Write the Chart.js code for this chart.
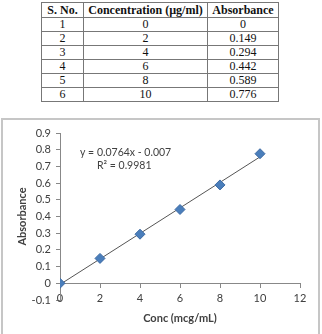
<!DOCTYPE html>
<html>
<head>
<meta charset="utf-8">
<script src="https://cdn.jsdelivr.net/npm/chart.js@4.4.1/dist/chart.umd.min.js"></script>
<style>
  body { margin: 0; background: #fff; width: 322px; height: 334px; overflow: hidden; position: relative; }
  table { position: absolute; left: 41px; top: 2px; border-collapse: collapse; table-layout: fixed;
          font-family: "Liberation Serif", "Times New Roman", serif; font-size: 12px; color: #111; }
  td, th { border: 1px solid #777; text-align: center; padding: 0; line-height: 13px; }
  th { height: 14px; font-weight: bold; }
  td { height: 13px; }
  #frame { position: absolute; left: 1px; top: 118px; width: 315px; height: 220px; border: 2px solid #c6c6c6; }
  #myChart { position: absolute; left: 0; top: 119px; }
</style>
</head>
<body>
<table id="tbl">
  <colgroup><col style="width:42px"><col style="width:124px"><col style="width:71px"></colgroup>
  <tr><th>S. No.</th><th>Concentration (µg/ml)</th><th>Absorbance</th></tr>
</table>
<div id="frame"></div>
<canvas id="myChart" width="322" height="215"></canvas>
<script>
const sNo = [1, 2, 3, 4, 5, 6];
const conc = [0, 2, 4, 6, 8, 10];
const absorbance = [0, 0.149, 0.294, 0.442, 0.589, 0.776];
const absLabels = ["0", "0.149", "0.294", "0.442", "0.589", "0.776"];
const slope = 0.0764;
const intercept = -0.007;
const trendX = [0, 10];

// table rows
const tbl = document.getElementById("tbl");
sNo.forEach((n, i) => {
  const tr = document.createElement("tr");
  tr.innerHTML = `<td>${n}</td><td>${conc[i]}</td><td>${absLabels[i]}</td>`;
  tbl.appendChild(tr);
});

const points = conc.map((x, i) => ({ x: x, y: absorbance[i] }));
const trend = trendX.map((x) => ({ x: x, y: slope * x + intercept }));

const eqText = {
  id: "eqText",
  afterDraw(chart) {
    const ctx = chart.ctx;
    const a = chart.chartArea;
    ctx.save();
    ctx.fillStyle = "#404040";
    ctx.font = "10.5px Lato";
    ctx.textBaseline = "middle";
    ctx.fillText("y = 0.0764x - 0.007", a.left + 20, a.top + 20);
    ctx.fillText("R² = 0.9981", a.left + 37, a.top + 33);
    ctx.restore();
  }
};

Chart.defaults.font.family = "Lato";
Chart.defaults.font.size = 11;
Chart.defaults.color = "#404040";

const config = {
  type: "scatter",
  data: {
    datasets: [
      {
        label: "Absorbance",
        data: points,
        pointStyle: "rectRot",
        pointRadius: 5,
        backgroundColor: "#4a7ebb",
        borderColor: "#3c6aa3",
        borderWidth: 1,
        order: 0
      },
      {
        label: "Linear",
        type: "line",
        data: trend,
        borderColor: "#555",
        borderWidth: 1,
        pointRadius: 0,
        fill: false,
        order: 1
      }
    ]
  },
  options: {
    responsive: false,
    animation: false,
    layout: { padding: { left: 0, top: 14, right: 22, bottom: 34 } },
    plugins: { legend: { display: false }, tooltip: { enabled: false } },
    scales: {
      x: {
        type: "linear",
        position: { y: 0 },
        min: 0,
        max: 12,
        ticks: { stepSize: 2, padding: 5 },
        grid: { drawOnChartArea: false, tickLength: 4, color: "#888" },
        border: { color: "#888" },
        title: { display: true, text: "Conc (mcg/mL)", font: { weight: "bold", size: 11 }, padding: { top: 1, bottom: 4 } }
      },
      y: {
        min: -0.1,
        max: 0.9,
        ticks: { stepSize: 0.1, padding: 5, callback: (v) => String(Number(v.toFixed(1))) },
        grid: { drawOnChartArea: false, tickLength: 4, color: "#888" },
        border: { color: "#888" },
        title: { display: true, text: "Absorbance", font: { weight: "bold", size: 11 }, padding: { top: 16, bottom: 0 } },
        afterFit: (s) => { s.width = 60; }
      }
    }
  },
  plugins: [eqText]
};

const myChart = new Chart(document.getElementById("myChart"), config);
</script>
</body>
</html>
